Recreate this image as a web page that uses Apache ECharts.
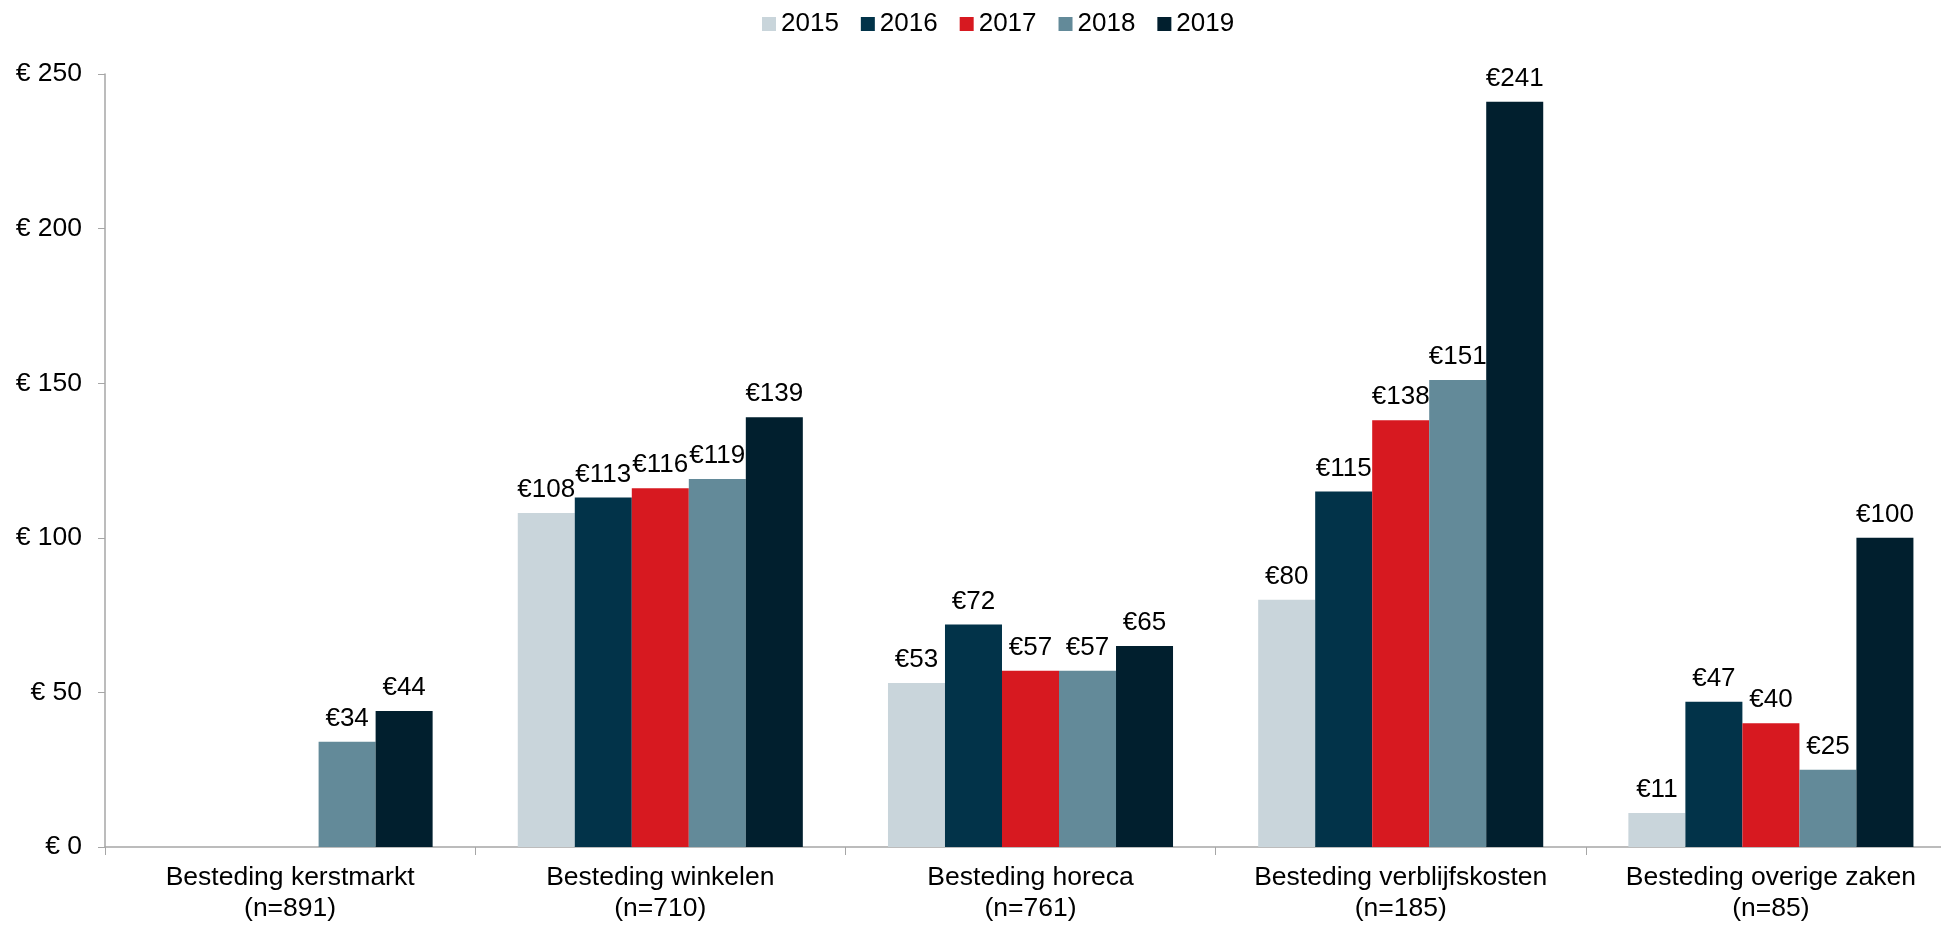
<!DOCTYPE html>
<html>
<head>
<meta charset="utf-8">
<title>Besteding per bezoeker</title>
<script src="https://cdn.jsdelivr.net/npm/echarts@6/dist/echarts.min.js"></script>
<style>
  html, body { margin: 0; padding: 0; background: #fff; }
  #chart { width: 1941px; height: 926px; }
</style>
</head>
<body>
<div id="chart"></div>
<script>
// categorieen en waarden per jaar
var categories = [
    'Besteding kerstmarkt\n(n=891)',
    'Besteding winkelen\n(n=710)',
    'Besteding horeca\n(n=761)',
    'Besteding verblijfskosten\n(n=185)',
    'Besteding overige zaken\n(n=85)'
];
var years = ['2015', '2016', '2017', '2018', '2019'];
var v2015 = ['-', 108, 53, 80, 11];
var v2016 = ['-', 113, 72, 115, 47];
var v2017 = ['-', 116, 57, 138, 40];
var v2018 = [34, 119, 57, 151, 25];
var v2019 = [44, 139, 65, 241, 100];
var colors = ['#C9D5DB', '#023349', '#D71920', '#638A99', '#011F2E'];
var yTicks = [0, 50, 100, 150, 200, 250];

var font = 'Liberation Sans, Arial, sans-serif';
var myChart = echarts.init(document.getElementById('chart'));

var allValues = [v2015, v2016, v2017, v2018, v2019];
var series = years.map(function (y, i) {
    return {
        name: y,
        type: 'bar',
        data: allValues[i],
        barGap: '0%',
        barCategoryGap: '23%',
        itemStyle: { color: colors[i] },
        label: {
            show: true,
            position: 'top',
            distance: 10,
            color: '#000',
            fontFamily: font,
            fontSize: 26,
            formatter: function (p) { return '€' + p.value; }
        }
    };
});

option = {
    backgroundColor: '#fff',
    animation: false,
    color: colors,
    legend: {
        data: years,
        left: 757,
        top: 6,
        itemWidth: 14,
        itemHeight: 14,
        itemGap: 22,
        icon: 'rect',
        textStyle: { fontFamily: font, fontSize: 26, color: '#000' }
    },
    grid: {
        left: 105,
        right: -15,
        top: 74,
        bottom: 79,
        outerBoundsMode: 'none'
    },
    xAxis: {
        type: 'category',
        data: categories,
        axisLine: { lineStyle: { color: '#A6A6A6', width: 1.5 } },
        axisTick: { show: true, length: 8, lineStyle: { color: '#A6A6A6' } },
        axisLabel: {
            color: '#000',
            fontFamily: font,
            fontSize: 26.5,
            lineHeight: 31,
            margin: 15,
            interval: 0
        }
    },
    yAxis: {
        type: 'value',
        min: yTicks[0],
        max: yTicks[yTicks.length - 1],
        interval: 50,
        splitLine: { show: false },
        axisLine: { show: true, lineStyle: { color: '#A6A6A6', width: 1.5 } },
        axisTick: { show: true, length: 7, lineStyle: { color: '#A6A6A6' } },
        axisLabel: {
            color: '#000',
            fontFamily: font,
            fontSize: 26.5,
            margin: 23,
            formatter: '€ {value}'
        }
    },
    series: series
};

myChart.setOption(option);
</script>
</body>
</html>
